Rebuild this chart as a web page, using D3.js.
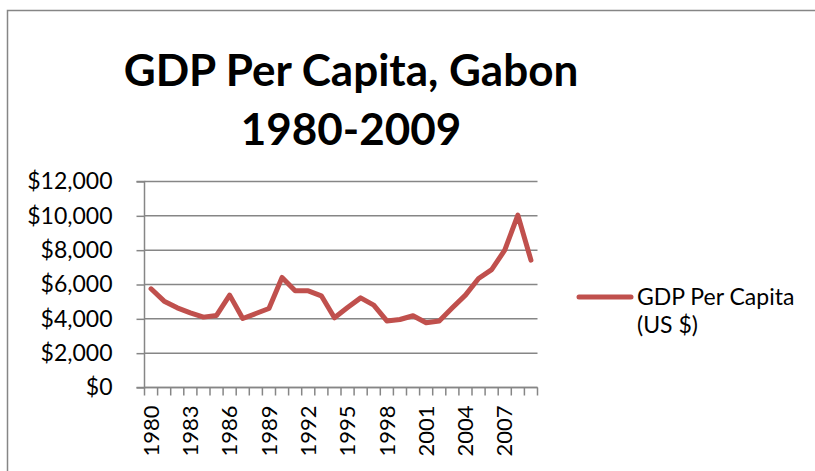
<!DOCTYPE html>
<html>
<head>
<meta charset="utf-8">
<script src="https://cdn.jsdelivr.net/npm/d3@7"></script>
<style>
  body { margin: 0; background: #fff; }
  text { font-family: Lato, "Open Sans", sans-serif; fill: #000; }
</style>
</head>
<body>
<div id="chart"></div>
<script>
const years = d3.range(1980, 2010);
const gdpPerCapita = [5750, 5030, 4640, 4350, 4100, 4200, 5380, 4020, 4310, 4600,
  6410, 5630, 5630, 5340, 4060, 4660, 5220, 4800, 3880, 3960,
  4180, 3770, 3870, 4640, 5380, 6350, 6870, 8000, 10040, 7420];
const yTicks = [0, 2000, 4000, 6000, 8000, 10000, 12000];
const xLabelYears = years.filter((d, i) => i % 3 === 0);
const titleLines = ['GDP Per Capita, Gabon', '1980-2009'];
const legendLines = ['GDP Per Capita', '(US $)'];

let svgDimensions = [815, 471];
let svg = d3.select('#chart')
  .append('svg')
    .attr('width', svgDimensions[0])
    .attr('height', svgDimensions[1]);

const gray = '#868686';
const red = '#C0504D';

// outer chart border
svg.append('rect')
  .attr('x', 7.5).attr('y', 10.5)
  .attr('width', 830).attr('height', 480)
  .attr('fill', 'none')
  .attr('stroke', gray)
  .attr('stroke-width', 1.5);

let plot = {left: 144.5, right: 537.5, top: 181.5, bottom: 387.5};

let x = d3.scaleBand()
  .domain(years)
  .range([plot.left, plot.right]);

let y = d3.scaleLinear()
  .domain([0, 12000])
  .range([plot.bottom, plot.top]);

// gridlines
svg.append('g')
  .selectAll('line')
  .data(yTicks)
  .enter()
  .append('line')
    .attr('x1', plot.left).attr('x2', plot.right)
    .attr('y1', d => y(d)).attr('y2', d => y(d))
    .attr('stroke', gray)
    .attr('stroke-width', 1.5);

// y axis
let yAxis = svg.append('g')
  .attr('transform', `translate(${plot.left},0)`)
  .call(d3.axisLeft(y)
    .tickValues(yTicks)
    .tickSize(8)
    .tickPadding(24)
    .tickFormat(d => '$' + d3.format(',')(d)));
yAxis.selectAll('line, path').attr('stroke', gray).attr('stroke-width', 1.5);
yAxis.select('.domain').attr('d', `M-8,${plot.top}H0V${plot.bottom}H-8`);
yAxis.selectAll('text')
  .style('font-size', '23px')
  .style('font-family', 'Lato, sans-serif')
  .attr('fill', '#000');

// x axis line and boundary ticks
let bounds = years.map(d => x(d)).concat([plot.right]);
svg.append('line')
  .attr('x1', plot.left).attr('x2', plot.right)
  .attr('y1', plot.bottom).attr('y2', plot.bottom)
  .attr('stroke', gray).attr('stroke-width', 1.5);
svg.append('g')
  .selectAll('line')
  .data(bounds)
  .enter()
  .append('line')
    .attr('x1', d => d).attr('x2', d => d)
    .attr('y1', plot.bottom).attr('y2', plot.bottom + 8)
    .attr('stroke', gray)
    .attr('stroke-width', 1.5);

// x labels
let xAxis = svg.append('g')
  .attr('transform', `translate(0,${plot.bottom})`)
  .call(d3.axisBottom(x)
    .tickValues(xLabelYears)
    .tickSize(0)
    .tickFormat(d => d));
xAxis.select('.domain').remove();
xAxis.selectAll('text')
  .style('font-size', '22px')
  .style('font-family', 'Lato, sans-serif')
  .attr('fill', '#000')
  .attr('text-anchor', 'end')
  .attr('dy', '0.35em')
  .attr('transform', 'translate(0,18) rotate(-90)')
  .attr('y', 0)
  .attr('x', 0);

// line
let line = d3.line()
  .x((d, i) => x(years[i]) + x.bandwidth() / 2)
  .y(d => y(d));

svg.append('path')
  .datum(gdpPerCapita)
  .attr('d', line)
  .attr('fill', 'none')
  .attr('stroke', red)
  .attr('stroke-width', 5)
  .attr('stroke-linejoin', 'round')
  .attr('stroke-linecap', 'round');

// title
let title = svg.append('text')
  .attr('text-anchor', 'middle')
  .style('font-weight', 'bold')
  .style('font-size', '44px');
title.selectAll('tspan')
  .data(titleLines)
  .enter()
  .append('tspan')
    .attr('x', 351)
    .attr('y', (d, i) => i === 0 ? 86 : 145)
    .text(d => d);

// legend
svg.append('line')
  .attr('x1', 579).attr('x2', 631)
  .attr('y1', 297).attr('y2', 297)
  .attr('stroke', red)
  .attr('stroke-width', 5)
  .attr('stroke-linecap', 'round');
svg.append('text')
  .style('font-size', '23px')
  .selectAll('tspan')
  .data(legendLines)
  .enter()
  .append('tspan')
    .attr('x', 637)
    .attr('y', (d, i) => 305 + i * 28)
    .text(d => d);
</script>
</body>
</html>
